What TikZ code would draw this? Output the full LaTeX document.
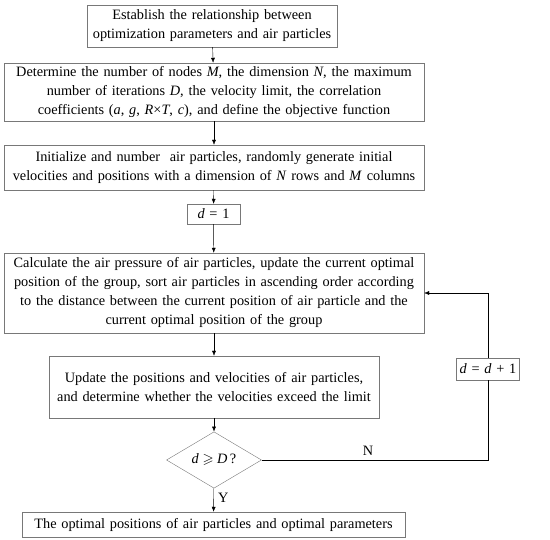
\documentclass[tikz,border=0pt]{standalone}
\usepackage{amssymb}
\usepackage{fontspec}
\setmainfont{Liberation Serif}
\usetikzlibrary{arrows.meta,shapes.geometric}
\definecolor{boxGray}{RGB}{120,120,120}

\begin{document}
\begin{tikzpicture}[%
    x=1pt, y=-1pt,
    every node/.style={
        font=\fontsize{14.3}{19}\selectfont,
    },
    stepbox/.style={
        draw=boxGray,
        align=center,
        inner xsep=2pt,
        inner ysep=0pt,
    },
    flow/.style={-{Latex[length=5pt,width=4pt]}},
]
\useasboundingbox (0,0) rectangle (550,540);

% draw boxes of the main column
\node[stepbox,text width=246pt,minimum height=42pt] (est) at (212,26)
    {Establish the relationship between\\optimization parameters and air particles};
\node[stepbox,text width=416pt,minimum height=58pt] (det) at (214,92)
    {Determine the number of nodes \textit{M}, the dimension \textit{N}, the maximum\\
     number of iterations \textit{D}, the velocity limit, the correlation\\
     coefficients (\textit{a}, \textit{g}, \textit{R}×\textit{T}, \textit{c}), and define the objective function};
\node[stepbox,text width=416pt,minimum height=45pt] (init) at (214,167.5)
    {Initialize and number\ \ air particles, randomly generate initial\\
     velocities and positions with a dimension of \textit{N} rows and \textit{M} columns};
\node[stepbox,text width=49pt,minimum height=20pt] (d1) at (213.5,214)
    {\textit{d} = 1};
\node[stepbox,text width=416pt,minimum height=80pt] (calc) at (214,293)
    {Calculate the air pressure of air particles, update the current optimal\\
     position of the group, sort air particles in ascending order according\\
     to the distance between the current position of air particle and the\\
     current optimal position of the group};
\node[stepbox,text width=326pt,minimum height=62pt] (upd) at (214,387)
    {Update the positions and velocities of air particles,\\
     and determine whether the velocities exceed the limit};
\node[draw=boxGray,diamond,inner sep=0pt,minimum width=95pt,minimum height=46pt] (dec) at (214,460)
    {\textit{d} $\geqslant$ \textit{D}\,?};
\node[stepbox,text width=379pt,minimum height=25pt] (out) at (213.5,524.5)
    {The optimal positions of air particles and optimal parameters};

% draw loop counter box
\node[stepbox,text width=59pt,minimum height=22pt] (inc) at (488,369)
    {\textit{d} = \textit{d} + 1};

% draw arrows down the column
\draw[flow] (est) -- (det);
\draw[flow] (det) -- (init);
\draw[flow] (init) -- (d1);
\draw[flow] (d1) -- (calc);
\draw[flow] (calc) -- (upd);
\draw[flow] (upd) -- (dec);
\draw[flow] (dec) -- node[right=1pt,pos=0.4] {Y} (out);

% draw the return loop
\draw (dec.east) -- node[above=1pt,pos=0.47] {N} (dec.east -| inc.south) -- (inc.south);
\draw[flow] (inc.north) -- (inc.north |- calc.east) -- (calc.east);

\end{tikzpicture}
\end{document}
